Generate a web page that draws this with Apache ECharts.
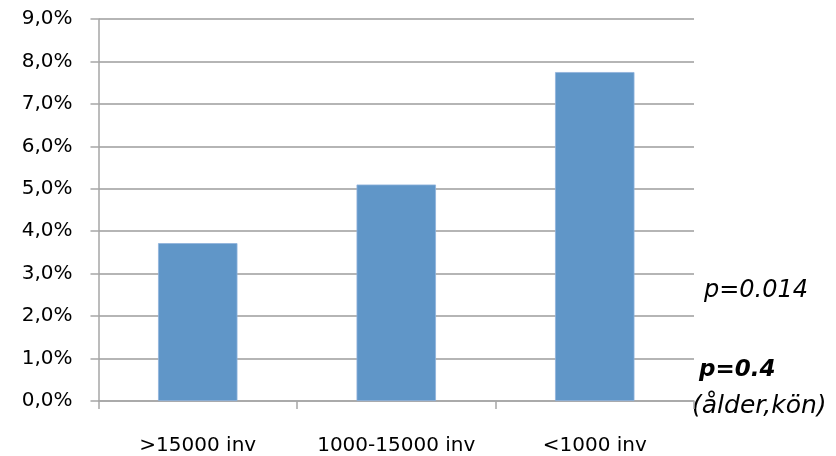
<!DOCTYPE html>
<html>
<head>
<meta charset="utf-8">
<script src="https://cdn.jsdelivr.net/npm/echarts@6/dist/echarts.min.js"></script>
<style>
html,body{margin:0;padding:0;background:#fff;}
#c{width:836px;height:456px;}
</style>
</head>
<body>
<div id="c"></div>
<script>
var categories = ['>15000 inv', '1000-15000 inv', '<1000 inv'];
var values = [3.72, 5.10, 7.75];
var yMin = 0, yMax = 9, yStep = 1;
var notes = ['p=0.014', 'p=0.4', '(ålder,kön)'];

var chart = echarts.init(document.getElementById('c'));
var font = '"DejaVu Sans", "Liberation Sans", sans-serif';
chart.setOption({
  animation: false,
  backgroundColor: '#ffffff',
  grid: {left: 98.5, right: 142, top: 19, bottom: 53.5, containLabel: false},
  xAxis: {
    type: 'category',
    data: categories,
    axisLine: {lineStyle: {color: '#a6a6a6', width: 1.5}},
    axisTick: {show: true, interval: 0, alignWithLabel: false, length: 8, lineStyle: {color: '#a6a6a6', width: 1.5}},
    axisLabel: {color: '#000', fontSize: 20, fontFamily: font, margin: 35, interval: 0, hideOverlap: false}
  },
  yAxis: {
    type: 'value',
    min: yMin, max: yMax, interval: yStep,
    axisLine: {show: true, lineStyle: {color: '#a6a6a6', width: 1.5}},
    axisTick: {show: true, length: 8, lineStyle: {color: '#a6a6a6', width: 1.5}},
    splitLine: {lineStyle: {color: '#9d9d9d', width: 1.5}},
    axisLabel: {
      color: '#000', fontSize: 20, fontFamily: font, margin: 26,
      formatter: function (v) { return v.toFixed(1).replace('.', ',') + '%'; }
    }
  },
  series: [{
    type: 'bar',
    data: values,
    barWidth: '40%',
    itemStyle: {color: '#6096c8', borderColor: '#8fb3dc', borderWidth: 0.8}
  }],
  graphic: [
    {type: 'text', x: 704, y: 291, style: {text: notes[0], font: 'italic 24px ' + font, fill: '#000', verticalAlign: 'middle', align: 'left'}},
    {type: 'text', x: 699, y: 370, style: {text: notes[1], font: 'italic bold 23px ' + font, fill: '#000', verticalAlign: 'middle', align: 'left'}},
    {type: 'text', x: 692, y: 406, style: {text: notes[2], font: 'italic 25px ' + font, fill: '#000', verticalAlign: 'middle', align: 'left'}}
  ]
});
</script>
</body>
</html>
